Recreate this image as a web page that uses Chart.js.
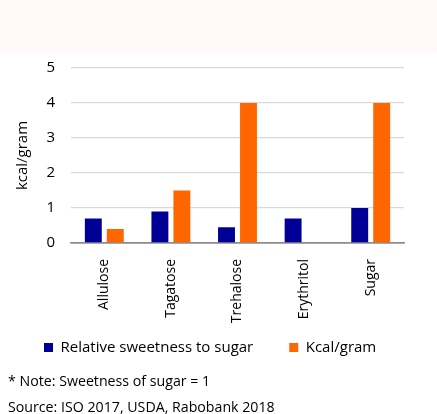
<!DOCTYPE html>
<html>
<head>
<meta charset="utf-8">
<script src="https://cdn.jsdelivr.net/npm/chart.js@4"></script>
<style>
  html, body { margin: 0; padding: 0; background: #ffffff; width: 437px; height: 414px; overflow: hidden; font-family: "Open Sans", sans-serif; }
  #band { height: 53px; background: #fffaf9; }
  #wrap { position: absolute; left: 0; top: 53px; width: 437px; height: 331px; }
  .note { position: absolute; left: 8px; font-size: 14.2px; color: #000; white-space: nowrap; }
</style>
</head>
<body>
<div id="band"></div>
<div id="wrap"><canvas id="c"></canvas></div>
<div class="note" style="top:371px;">* Note: Sweetness of sugar = 1</div>
<div class="note" style="top:397px;">Source: ISO 2017, USDA, Rabobank 2018</div>
<script>
const categories = ["Allulose", "Tagatose", "Trehalose", "Erythritol", "Sugar"];
const sweetness = [0.7, 0.9, 0.45, 0.7, 1.0];
const kcal = [0.4, 1.5, 4.0, null, 4.0];
const yTicks = [0, 1, 2, 3, 4, 5];
const seriesNames = ["Relative sweetness to sugar", "Kcal/gram"];

const FONT = "'Open Sans', sans-serif";

// move the legend up a little so it sits closer to the rotated labels
const legendShift = {
  id: 'legendShift',
  afterLayout(chart) {
    const l = chart.legend;
    if (l) { l.top -= 19; l.bottom -= 19; }
  }
};

new Chart(document.getElementById('c'), {
  type: 'bar',
  data: {
    labels: categories,
    datasets: [
      { label: seriesNames[0], data: sweetness, backgroundColor: '#000096', categoryPercentage: 0.66, barPercentage: 0.77 },
      { label: seriesNames[1], data: kcal, backgroundColor: '#ff6600', categoryPercentage: 0.66, barPercentage: 0.77 }
    ]
  },
  plugins: [legendShift],
  options: {
    responsive: true,
    maintainAspectRatio: false,
    animation: false,
    layout: { padding: { top: 15, right: 0, left: 8, bottom: 0 } },
    plugins: {
      tooltip: { enabled: false },
      legend: {
        position: 'bottom',
        align: 'start',
        labels: {
          font: { family: FONT, size: 15 },
          color: '#000',
          boxWidth: 9,
          boxHeight: 9,
          padding: 36
        }
      }
    },
    scales: {
      x: {
        grid: { display: false },
        border: { display: true, color: '#8c8c8c', width: 1.5 },
        ticks: { font: { family: FONT, size: 14 }, color: '#000', minRotation: 90, maxRotation: 90, padding: 8 },
        afterFit(s) { s.height = 80; }
      },
      y: {
        min: 0, max: 5,
        afterBuildTicks(s) { s.ticks = yTicks.map(v => ({ value: v })); },
        grid: {
          color: ctx => ctx.tick && ctx.tick.value === 0 ? '#8c8c8c' : '#d9d9d9',
          lineWidth: ctx => ctx.tick && ctx.tick.value === 0 ? 1.5 : 1.2,
          drawTicks: true,
          tickLength: 12,
          tickColor: 'rgba(0,0,0,0)'
        },
        border: { display: false },
        ticks: { font: { family: FONT, size: 15 }, color: '#000', padding: 4 },
        title: { display: true, text: 'kcal/gram', font: { family: FONT, size: 15 }, color: '#000', padding: 6 },
        afterFit(s) { s.width = 63; }
      },
      yRight: {
        position: 'right',
        display: true,
        grid: { display: false },
        border: { display: false },
        ticks: { display: false },
        afterFit(s) { s.width = 33; }
      }
    }
  }
});
</script>
</body>
</html>
